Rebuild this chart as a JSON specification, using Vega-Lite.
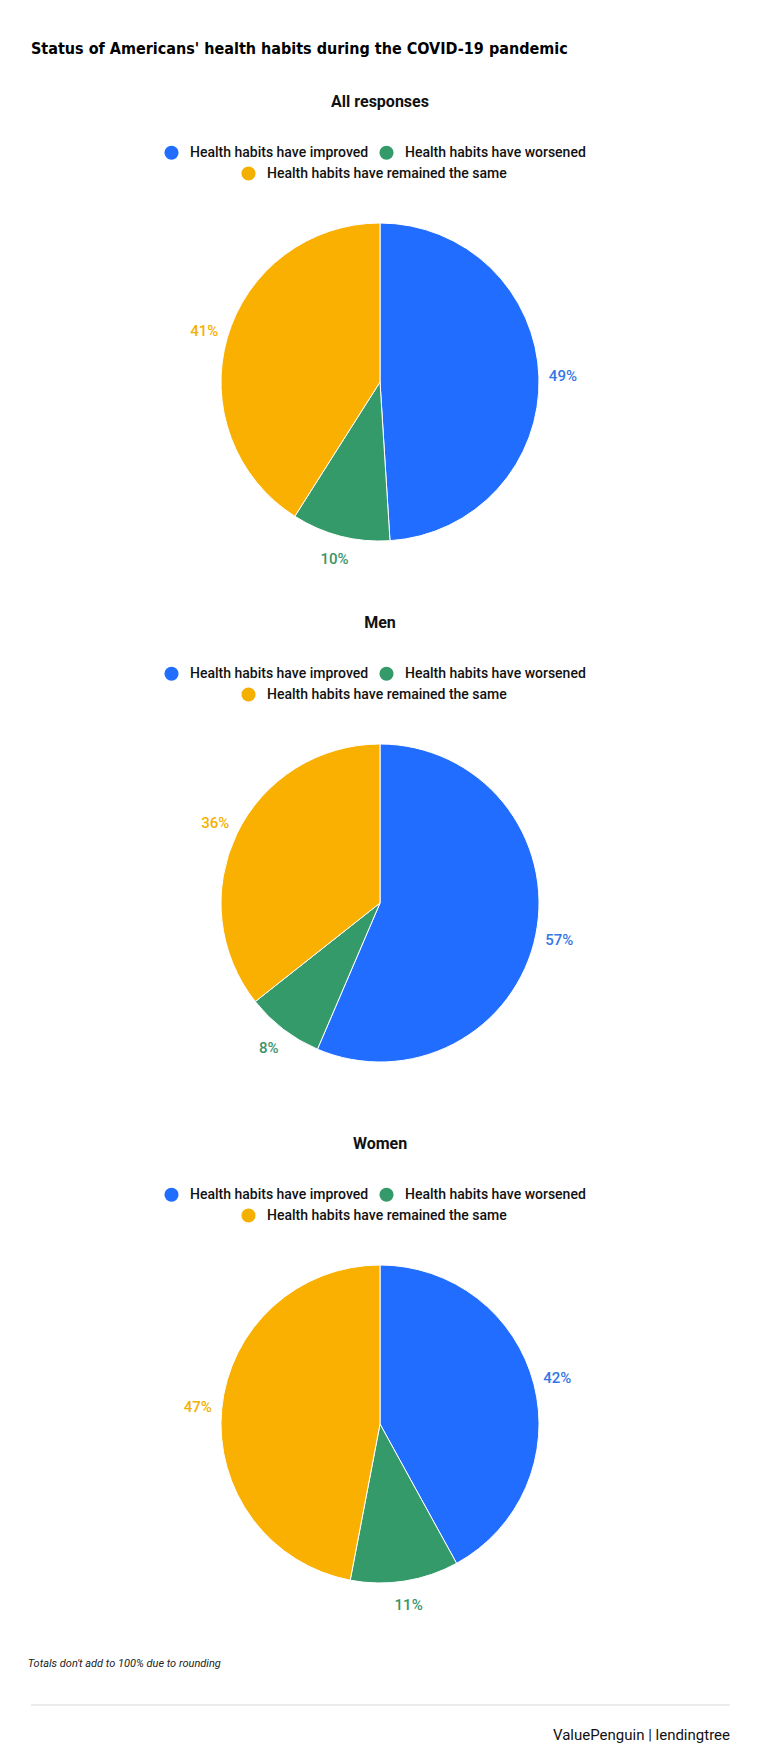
{
  "$schema": "https://vega.github.io/schema/vega-lite/v6.json",
  "background": "white",
  "padding": {"top": 40, "left": 0, "right": 0, "bottom": 10},
  "title": {"text": "Status of Americans' health habits during the COVID-19 pandemic", "anchor": "start", "dx": 31, "fontSize": 16, "font": "Liberation Sans Narrow, DejaVu Sans Condensed, Roboto", "fontWeight": "bold", "color": "#000000", "offset": 37.5},
  "datasets": {
    "habits": [
      {"group": "All responses", "status": "Health habits have improved", "k": 1, "pct": 49, "label": "49%"},
      {"group": "All responses", "status": "Health habits have worsened", "k": 2, "pct": 10, "label": "10%"},
      {"group": "All responses", "status": "Health habits have remained the same", "k": 3, "pct": 41, "label": "41%"},
      {"group": "Men", "status": "Health habits have improved", "k": 1, "pct": 57, "label": "57%"},
      {"group": "Men", "status": "Health habits have worsened", "k": 2, "pct": 8, "label": "8%"},
      {"group": "Men", "status": "Health habits have remained the same", "k": 3, "pct": 36, "label": "36%"},
      {"group": "Women", "status": "Health habits have improved", "k": 1, "pct": 42, "label": "42%"},
      {"group": "Women", "status": "Health habits have worsened", "k": 2, "pct": 11, "label": "11%"},
      {"group": "Women", "status": "Health habits have remained the same", "k": 3, "pct": 47, "label": "47%"}
    ],
    "footer": [{"x": 0}]
  },
  "spacing": 21,
  "center": true,
  "bounds": "flush",
  "resolve": {"scale": {"color": "independent", "fill": "independent"}, "legend": {"color": "independent", "fill": "independent"}},
  "vconcat": [
    {
      "width": 760, "height": 500,
      "data": {"name": "habits"},
      "transform": [{"filter": "datum.group === 'All responses'"}],
      "title": {"text": "All responses", "anchor": "middle", "fontSize": 16, "fontWeight": "bold", "color": "#111111", "offset": 22},
      "encoding": {
        "theta": {"field": "pct", "type": "quantitative", "stack": true},
        "order": {"field": "k", "type": "quantitative"}
      },
      "layer": [
        {"mark": {"type": "arc", "outerRadius": 159, "stroke": "white", "strokeWidth": 1},
         "encoding": {"color": {"field": "status", "type": "nominal",
          "scale": {"domain": ["Health habits have improved", "Health habits have worsened", "Health habits have remained the same"], "range": ["#216dff", "#359a69", "#f9b000"]},
          "legend": {"orient": "none", "legendX": 164, "legendY": 13, "direction": "horizontal", "values": ["Health habits have improved", "Health habits have worsened"], "title": null, "symbolType": "circle", "symbolSize": 200, "symbolStrokeWidth": 0, "symbolOpacity": 1, "labelFontSize": 14, "labelFontWeight": 500, "labelColor": "#111111", "labelOffset": 11, "columnPadding": 10, "labelLimit": 400}}}},
        {"mark": {"type": "text", "radius": 183, "fontSize": 15, "fontWeight": 500},
         "encoding": {"text": {"field": "label", "type": "nominal"},
          "fill": {"field": "status", "type": "nominal",
          "scale": {"domain": ["Health habits have remained the same", "Health habits have improved", "Health habits have worsened"], "range": ["#f4b000", "#3575e6", "#3a9467"]},
          "legend": {"orient": "none", "legendX": 241, "legendY": 34, "direction": "horizontal", "values": ["Health habits have remained the same"], "title": null, "symbolType": "circle", "symbolSize": 200, "symbolStrokeWidth": 0, "symbolOpacity": 1, "symbolFillColor": "#f9b000", "labelFontSize": 14, "labelFontWeight": 500, "labelColor": "#111111", "labelOffset": 11, "labelLimit": 400}}}}
      ]
    },
    {
      "width": 760, "height": 500,
      "data": {"name": "habits"},
      "transform": [{"filter": "datum.group === 'Men'"}],
      "title": {"text": "Men", "anchor": "middle", "fontSize": 16, "fontWeight": "bold", "color": "#111111", "offset": 22},
      "encoding": {
        "theta": {"field": "pct", "type": "quantitative", "stack": true},
        "order": {"field": "k", "type": "quantitative"}
      },
      "layer": [
        {"mark": {"type": "arc", "outerRadius": 159, "stroke": "white", "strokeWidth": 1},
         "encoding": {"color": {"field": "status", "type": "nominal",
          "scale": {"domain": ["Health habits have improved", "Health habits have worsened", "Health habits have remained the same"], "range": ["#216dff", "#359a69", "#f9b000"]},
          "legend": {"orient": "none", "legendX": 164, "legendY": 13, "direction": "horizontal", "values": ["Health habits have improved", "Health habits have worsened"], "title": null, "symbolType": "circle", "symbolSize": 200, "symbolStrokeWidth": 0, "symbolOpacity": 1, "labelFontSize": 14, "labelFontWeight": 500, "labelColor": "#111111", "labelOffset": 11, "columnPadding": 10, "labelLimit": 400}}}},
        {"mark": {"type": "text", "radius": 183, "fontSize": 15, "fontWeight": 500},
         "encoding": {"text": {"field": "label", "type": "nominal"},
          "fill": {"field": "status", "type": "nominal",
          "scale": {"domain": ["Health habits have remained the same", "Health habits have improved", "Health habits have worsened"], "range": ["#f4b000", "#3575e6", "#3a9467"]},
          "legend": {"orient": "none", "legendX": 241, "legendY": 34, "direction": "horizontal", "values": ["Health habits have remained the same"], "title": null, "symbolType": "circle", "symbolSize": 200, "symbolStrokeWidth": 0, "symbolOpacity": 1, "symbolFillColor": "#f9b000", "labelFontSize": 14, "labelFontWeight": 500, "labelColor": "#111111", "labelOffset": 11, "labelLimit": 400}}}}
      ]
    },
    {
      "width": 760, "height": 500,
      "data": {"name": "habits"},
      "transform": [{"filter": "datum.group === 'Women'"}],
      "title": {"text": "Women", "anchor": "middle", "fontSize": 16, "fontWeight": "bold", "color": "#111111", "offset": 22},
      "encoding": {
        "theta": {"field": "pct", "type": "quantitative", "stack": true},
        "order": {"field": "k", "type": "quantitative"}
      },
      "layer": [
        {"mark": {"type": "arc", "outerRadius": 159, "stroke": "white", "strokeWidth": 1},
         "encoding": {"color": {"field": "status", "type": "nominal",
          "scale": {"domain": ["Health habits have improved", "Health habits have worsened", "Health habits have remained the same"], "range": ["#216dff", "#359a69", "#f9b000"]},
          "legend": {"orient": "none", "legendX": 164, "legendY": 13, "direction": "horizontal", "values": ["Health habits have improved", "Health habits have worsened"], "title": null, "symbolType": "circle", "symbolSize": 200, "symbolStrokeWidth": 0, "symbolOpacity": 1, "labelFontSize": 14, "labelFontWeight": 500, "labelColor": "#111111", "labelOffset": 11, "columnPadding": 10, "labelLimit": 400}}}},
        {"mark": {"type": "text", "radius": 183, "fontSize": 15, "fontWeight": 500},
         "encoding": {"text": {"field": "label", "type": "nominal"},
          "fill": {"field": "status", "type": "nominal",
          "scale": {"domain": ["Health habits have remained the same", "Health habits have improved", "Health habits have worsened"], "range": ["#f4b000", "#3575e6", "#3a9467"]},
          "legend": {"orient": "none", "legendX": 241, "legendY": 34, "direction": "horizontal", "values": ["Health habits have remained the same"], "title": null, "symbolType": "circle", "symbolSize": 200, "symbolStrokeWidth": 0, "symbolOpacity": 1, "symbolFillColor": "#f9b000", "labelFontSize": 14, "labelFontWeight": 500, "labelColor": "#111111", "labelOffset": 11, "labelLimit": 400}}}}
      ]
    },
    {
      "width": 699, "height": 9.5,
      "data": {"name": "footer"},
      "title": {"text": "Totals don't add to 100% due to rounding", "anchor": "start", "fontSize": 11, "fontStyle": "italic", "fontWeight": "normal", "font": "Liberation Sans Narrow, Roboto", "color": "#222222", "offset": 26},
      "mark": {"type": "point", "opacity": 0},
      "encoding": {
        "x": {"field": "x", "type": "quantitative", "scale": {"domain": [0, 1]},
          "axis": {"orient": "bottom", "domainColor": "#d9d9d9", "domainWidth": 1, "ticks": false, "labels": false, "grid": false, "title": "ValuePenguin  |  lendingtree", "titleAnchor": "end", "titleFontSize": 15, "titleFontWeight": "normal", "titleColor": "#111111", "titlePadding": 23}}
      }
    }
  ],
  "config": {
    "font": "Roboto",
    "view": {"stroke": null}
  }
}
